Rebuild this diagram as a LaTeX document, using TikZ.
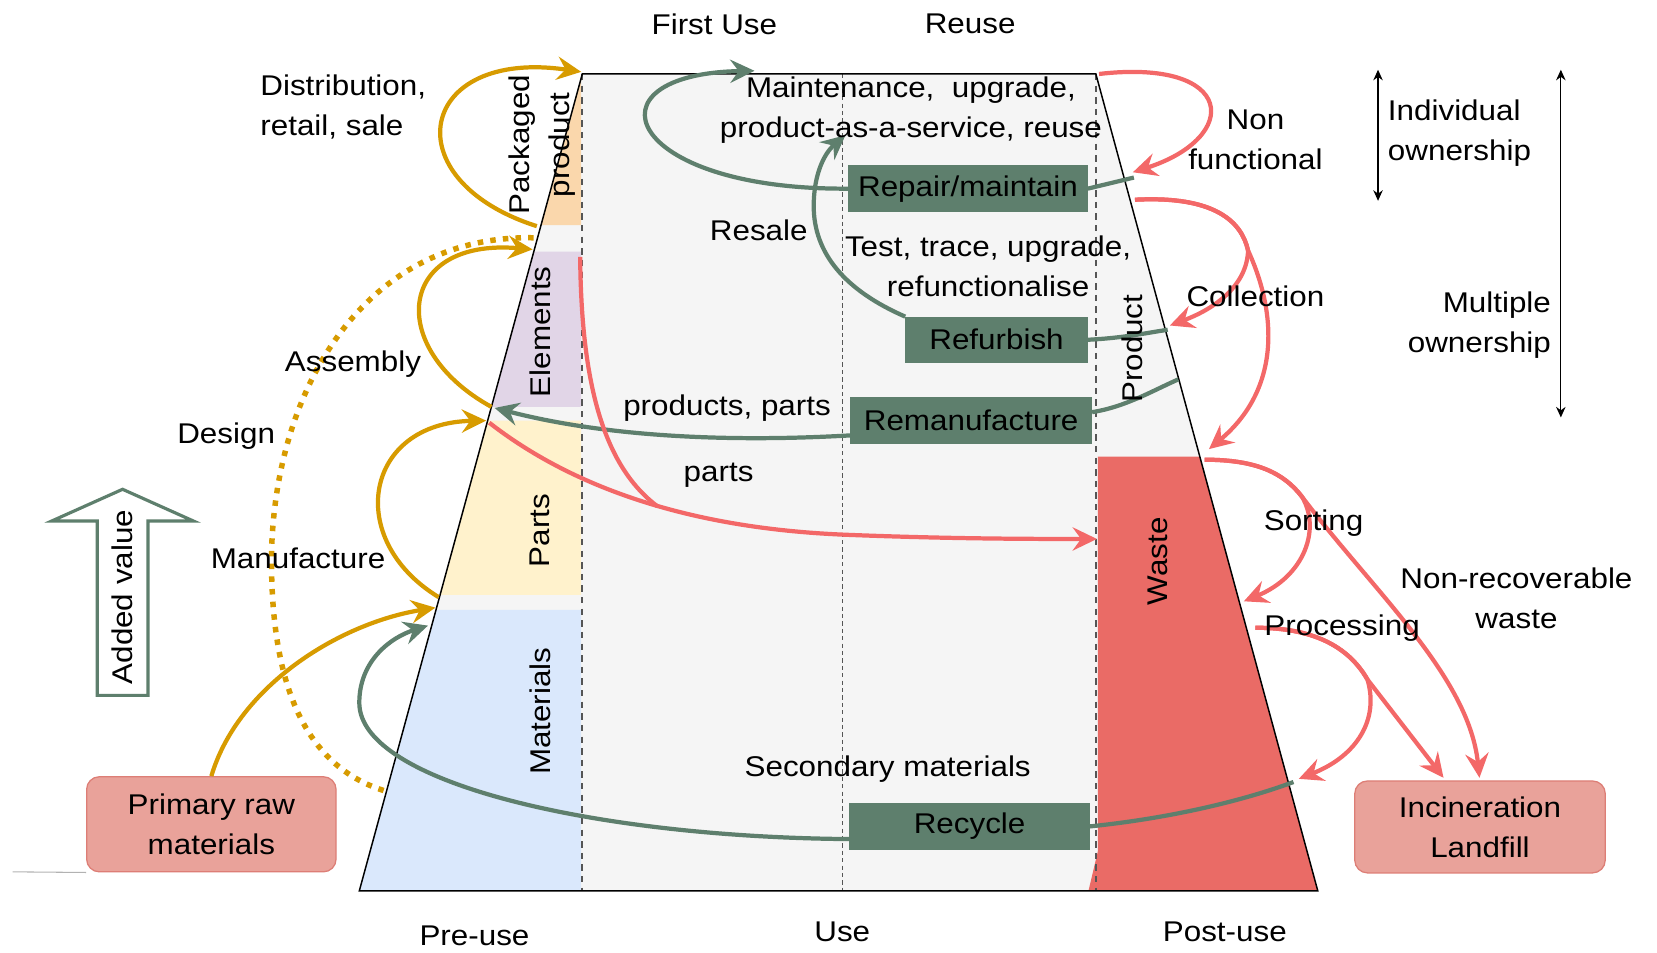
\documentclass[tikz,border=0pt]{standalone}
\usepackage{fontspec}
\setmainfont{Liberation Sans}[FakeStretch=1.1]
\usetikzlibrary{arrows.meta}
\definecolor{gold}{HTML}{D79B00}
\definecolor{gr}{HTML}{5E7F6D}
\definecolor{rd}{HTML}{F36868}
\definecolor{wastec}{HTML}{EA6B66}
\definecolor{rawc}{HTML}{E9A29A}
\definecolor{rawd}{HTML}{DD7E76}
\definecolor{pkg}{HTML}{FAD7AC}
\definecolor{elc}{HTML}{E1D5E7}
\definecolor{prc}{HTML}{FFF2CC}
\definecolor{mtc}{HTML}{DAE8FC}
\definecolor{bgc}{HTML}{F5F5F5}
\definecolor{dsh}{HTML}{555555}
\begin{document}
\begin{tikzpicture}[x=0.5pt,y=-0.5pt,
  font=\fontsize{13.5}{19}\selectfont,
  tip/.style={-{Stealth[length=11.5pt,width=11pt,inset=4pt]}},
  goldln/.style={draw=gold,line width=2pt},
  grln/.style={draw=gr,line width=2pt},
  rdln/.style={draw=rd,line width=2pt},
  gbox/.style={fill=gr,draw=gr,inner sep=0pt,text=black},
  rbox/.style={fill=rawc,draw=rawd,line width=0.6pt,rounded corners=6pt,inner sep=0pt,align=center},
  lbl/.style={inner sep=0pt,align=center},
  dbl/.style={{Stealth[length=5pt,width=4.5pt]}-{Stealth[length=5pt,width=4.5pt]},line width=0.6pt}
]
\useasboundingbox (0,0) rectangle (1568,901);
% fills
\fill[bgc] (551,70) -- (1037,70) -- (1247,843) -- (340,843) -- cycle;
\fill[pkg] (551,70) -- (512,213) -- (550,213) -- (550,70) -- cycle;
\fill[elc] (505.1,238) -- (465,385) -- (550,385) -- (550,238) -- cycle;
\fill[prc] (461.5,398) -- (416.4,563) -- (550,563) -- (550,398) -- cycle;
\fill[mtc] (412.6,577) -- (340,843) -- (550,843) -- (550,577) -- cycle;
\fill[wastec] (1039,432) -- (1135.3,432) -- (1247,843) -- (1030,843) -- (1039,805) -- cycle;
% dashed columns
\draw[dsh,line width=0.8pt,dash pattern=on 3pt off 2.5pt] (551,70) -- (551,843);
\draw[dsh,line width=0.8pt,dash pattern=on 3pt off 2.5pt] (1037,70) -- (1037,843);
\draw[dsh,line width=0.5pt,dash pattern=on 2pt off 1.5pt] (797,70) -- (797,843);
% outline
\draw[black,line width=0.7pt] (551,70) -- (1037,70) -- (1247,843) -- (340,843) -- cycle;

% boxes
\node[gbox,minimum width=113pt,minimum height=21.5pt] (rep) at (916,178.5) {Repair/maintain};
\node[gbox,minimum width=86pt,minimum height=21.5pt] (ref) at (943,321.5) {Refurbish};
\node[gbox,minimum width=114pt,minimum height=22pt] (rem) at (919,398) {Remanufacture};
\node[gbox,minimum width=113.5pt,minimum height=22pt] (rec) at (917.5,782) {Recycle};
\node[rbox,minimum width=118pt,minimum height=45pt] (raw) at (200,780) {Primary raw\\materials};
\node[rbox,minimum width=118.5pt,minimum height=43.5pt] (inc) at (1400.5,782.5) {Incineration\\Landfill};

% coordinates
\coordinate (pkgB) at (508,214);
\coordinate (pkgT) at (550,68);
\coordinate (elB) at (465,385);
\coordinate (elT) at (504,236);
\coordinate (paB) at (415,565);
\coordinate (paT) at (460,398);
\coordinate (maT) at (412,575);
\coordinate (desT) at (505,225);
\coordinate (desB) at (363,748);
\coordinate (repR) at (1073,168);
\coordinate (useT) at (714,67);
\coordinate (refR) at (1105,312);
\coordinate (resT) at (800,128);
\coordinate (remR) at (1115,359);
\coordinate (elL) at (468,386);
\coordinate (recR) at (1224,740);
\coordinate (maL) at (405,592);
\coordinate (nfS) at (1040,70);
\coordinate (nfE) at (1072,163);
\coordinate (colS) at (1074,189);
\coordinate (colM) at (1181,237);
\coordinate (colE) at (1107,308);
\coordinate (wsT) at (1144,425);
\coordinate (sorS) at (1140,435);
\coordinate (sorM) at (1232,470);
\coordinate (sorE) at (1177,569);
\coordinate (proS) at (1188,594);
\coordinate (proM) at (1294,643);
\coordinate (proE) at (1229,737);
\coordinate (incA) at (1366,736);
\coordinate (incB) at (1400,736);
\coordinate (ptS) at (463,400);
\coordinate (ptM) at (800,506);
\coordinate (wsL) at (1038,510);
\coordinate (elR) at (549,243);
\coordinate (ptJ) at (622,479);
\coordinate (gl) at (12,825);

% gold connectors
\draw[goldln,tip] (pkgB) .. controls (370,170) and (395,45) .. (pkgT);
\draw[goldln,tip] (elB) .. controls (365,330) and (375,225) .. (elT);
\draw[goldln,tip] (paB) .. controls (325,510) and (345,400) .. (paT);
\draw[goldln,tip] (raw.north) .. controls (225,650) and (320,590) .. (maT);
\draw[gold,line width=2.6pt,dash pattern=on 2.6pt off 3.4pt] (desT) .. controls (350,222) and (262,360) .. (257,520) .. controls (255,650) and (290,725) .. (desB);

% green connectors
\draw[grln] (rep.east) -- (repR);
\draw[grln,tip] (rep.west) .. controls (590,180) and (550,70) .. (useT);
\draw[grln] (ref.east) .. controls (1060,320) and (1080,316) .. (refR);
\draw[grln,tip] (ref.north west) .. controls (800,275) and (770,240) .. (770,195) .. controls (770,165) and (780,145) .. (resT);
\draw[grln] ([yshift=4pt]rem.east) .. controls (1065,385) and (1090,370) .. (remR);
\draw[grln,tip] ([yshift=-7pt]rem.west) .. controls (700,418) and (580,415) .. (elL);
\draw[grln] (rec.east) .. controls (1100,775) and (1170,760) .. (recR);
\draw[grln,tip] ([yshift=-6pt]rec.west) .. controls (560,792) and (340,740) .. (340,665) .. controls (340,625) and (370,603) .. (maL);

% red connectors
\draw[rdln,tip] (nfS) .. controls (1170,55) and (1175,130) .. (nfE);
\draw[rdln,tip] (colS) .. controls (1150,185) and (1175,210) .. (colM) .. controls (1180,270) and (1150,292) .. (colE);
\draw[rdln,tip] (colS) .. controls (1150,185) and (1175,210) .. (colM) .. controls (1210,300) and (1210,370) .. (wsT);
\draw[rdln,tip] (sorS) .. controls (1190,435) and (1215,448) .. (sorM) .. controls (1250,500) and (1235,545) .. (sorE);
\draw[rdln,tip] (sorS) .. controls (1190,435) and (1215,448) .. (sorM) .. controls (1300,560) and (1390,640) .. (incB);
\draw[rdln,tip] (proS) .. controls (1240,594) and (1275,610) .. (proM) .. controls (1305,680) and (1285,715) .. (proE);
\draw[rdln,tip] (proS) .. controls (1240,594) and (1275,610) .. (proM) -- (incA);
\draw[rdln,tip] (ptS) .. controls (540,460) and (650,500) .. (ptM) .. controls (900,510) and (980,510) .. (wsL);
\draw[rdln] (elR) .. controls (550,360) and (570,440) .. (ptJ);

% ownership arrows
\coordinate (o1t) at (1304,66);
\coordinate (o1b) at (1304,190);
\coordinate (o2t) at (1477,66);
\coordinate (o2b) at (1477,395);
\draw[dbl] (o1t) -- (o1b);
\draw[dbl] (o2t) -- (o2b);
\draw[gray!60,line width=0.5pt] (gl) -- (raw.south west);

% added value arrow
\draw[gr,line width=1.5pt,fill=white] (116,463) -- (183,493) -- (140,493) -- (140,658) -- (92,658) -- (92,493) -- (49,493) -- cycle;
\node[lbl,rotate=90] (av) at (116,565) {Added value};

% labels
\node[lbl] (t1) at (676,23) {First Use};
\node[lbl] (t2) at (918,23) {Reuse};
\node[lbl,anchor=west,align=left] (dist) at (246,101) {Distribution,\\retail, sale};
\node[lbl,rotate=90] (pkgl) at (513,137) {Packaged\\product};
\node[lbl,rotate=90] (ell) at (511,314) {Elements};
\node[lbl,rotate=90] (prl) at (511,502) {Parts};
\node[lbl,rotate=90] (mtl) at (511,673) {Materials};
\node[lbl,rotate=90] (prdl) at (1071,330) {Product};
\node[lbl,rotate=90] (wsl) at (1096,531) {Waste};
\node[lbl] (asm) at (334,345) {Assembly};
\node[lbl] (des) at (214,413) {Design};
\node[lbl] (man) at (282,528) {Manufacture};
\node[lbl] (mnt) at (862,104) {Maintenance,\ \ upgrade,\\product-as-a-service, reuse};
\node[lbl] (resale) at (718,218) {Resale};
\node[lbl] (ttu) at (935,252) {Test, trace, upgrade,\\refunctionalise};
\node[lbl] (pp) at (688,386) {products, parts};
\node[lbl] (pts) at (680,450) {parts};
\node[lbl] (nf) at (1188,132) {Non\\functional};
\node[lbl] (col) at (1188,280) {Collection};
\node[lbl,anchor=west,align=left] (ind) at (1313,126) {Individual\\ownership};
\node[lbl,anchor=east,align=right] (mult) at (1468,308) {Multiple\\ownership};
\node[lbl] (sort) at (1243,495) {Sorting};
\node[lbl] (nrw) at (1435,566) {Non-recoverable\\waste};
\node[lbl] (proc) at (1270,594) {Processing};
\node[lbl] (sec) at (840,728) {Secondary materials};
\node[lbl] (pre) at (449,886) {Pre-use};
\node[lbl] (use) at (797,882) {Use};
\node[lbl] (post) at (1159,882) {Post-use};
\end{tikzpicture}
\end{document}
